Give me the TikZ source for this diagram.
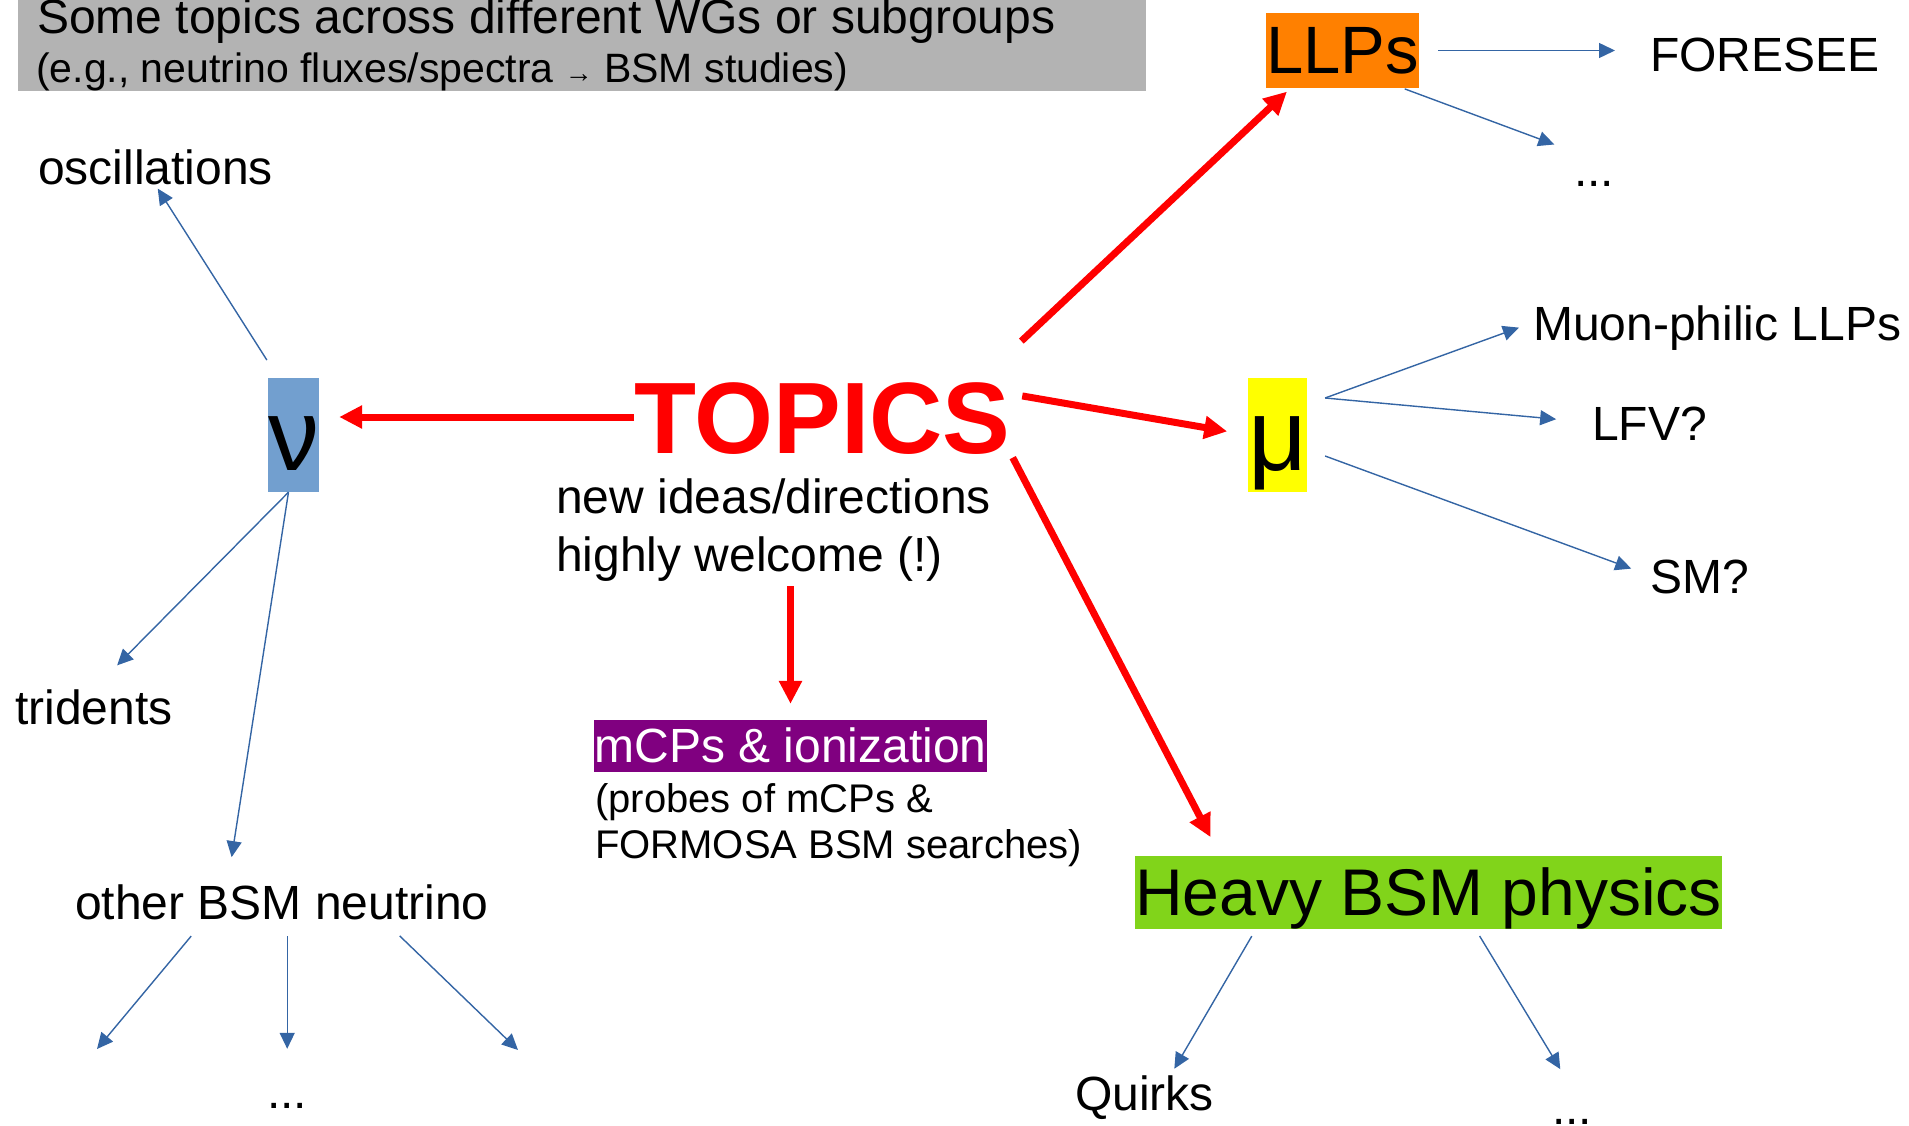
\documentclass[tikz,border=0pt]{standalone}
\usepackage{fontspec}
\setmainfont{Liberation Sans}
\usetikzlibrary{arrows.meta}
\definecolor{headgray}{HTML}{B3B3B3}
\definecolor{nublue}{HTML}{729FCF}
\definecolor{muyellow}{HTML}{FFFF00}
\definecolor{llporange}{HTML}{FF8000}
\definecolor{mcppurple}{HTML}{800080}
\definecolor{bsmgreen}{HTML}{81D41A}
\definecolor{arrowblue}{HTML}{3465A4}
\definecolor{topicred}{HTML}{FF0000}

\begin{document}
\begin{tikzpicture}[x=1pt, y=-1pt,
  lbl/.style={inner sep=0pt, anchor=base west, text height=35pt, text depth=0pt,
    font=\fontsize{48}{58}\selectfont},
  hlbox/.style={inner sep=0pt},
  redarrow/.style={topicred, line width=7pt, -{Triangle[length=23pt,width=22pt]}},
  bluearrow/.style={arrowblue, line width=1.4pt, -{Triangle[length=16pt,width=15pt]}}]
  \useasboundingbox (0,0) rectangle (1909,1126);

  % header
  \fill[headgray] (18,0) rectangle (1146,91);
  \node[lbl] (head1) at (37,34) {Some topics across different WGs or subgroups};
  \node[lbl, font=\fontsize{41}{47}\selectfont] (head2) at (36,83)
    {(e.g., neutrino fluxes/spectra {\fontsize{28}{28}\selectfont →} BSM studies)};

  % centre
  \node[inner sep=0pt, anchor=base west, text height=72pt, text depth=0pt, topicred,
    font=\fontsize{101.5}{110}\selectfont\bfseries] (topics) at (634,453) {TOPICS};
  \node[inner sep=0pt, anchor=north west, align=left,
    font=\fontsize{48}{58}\selectfont] (ideas) at (556,479)
    {new ideas/directions\\highly welcome (!)};
  \node[hlbox, fill=mcppurple, text=white, text height=42.5pt, text depth=9.5pt,
    font=\fontsize{48}{58}\selectfont] (mcp) at (790.5,746) {mCPs \& ionization};
  \node[inner sep=0pt, anchor=north west, align=left,
    font=\fontsize{40}{46}\selectfont] (probes) at (595,783)
    {(probes of mCPs \&\\FORMOSA BSM searches)};

  % neutrinos
  \node[hlbox, fill=nublue, text height=92pt, text depth=22pt, minimum width=51pt,
    font=\fontsize{102}{110}\selectfont] (nu) at (293.5,435) {ν};
  \node[lbl] (osc) at (38,185) {oscillations};
  \node[lbl] (trid) at (15,724) {tridents};
  \node[lbl] (othernu) at (75,919) {other BSM neutrino};
  \node[lbl] (dotsnu) at (267,1108) {...};
  \coordinate (bsmL) at (97,1049);
  \coordinate (bsmR) at (518,1050);

  % LLPs
  \node[hlbox, fill=llporange, text height=61pt, text depth=14pt,
    font=\fontsize{67}{75}\selectfont] (llp) at (1342.5,50.5) {LLPs};
  \node[lbl] (fore) at (1650,72) {FORESEE};
  \node[lbl] (dotsllp) at (1574,187) {...};

  % muons
  \node[hlbox, fill=muyellow, text height=92pt, text depth=22pt, minimum width=58pt,
    font=\fontsize{102}{110}\selectfont] (mu) at (1277.5,435) {μ};
  \node[lbl] (muon) at (1533,340) {Muon-philic LLPs};
  \node[lbl] (lfv) at (1592,440) {LFV?};
  \node[lbl] (sm) at (1650,593) {SM?};
  \coordinate (muhub) at ([xshift=18pt, yshift=37pt]mu.east);
  \coordinate (mulow) at ([xshift=18pt, yshift=-21pt]mu.east);

  % heavy BSM
  \node[hlbox, fill=bsmgreen, text height=59.5pt, text depth=13.5pt,
    font=\fontsize{66}{74}\selectfont] (heavy) at (1428.5,892.5) {Heavy BSM physics};
  \node[lbl] (quirks) at (1075,1110) {Quirks};
  \node[lbl] (dotsbsm) at (1552,1124) {...};

  % red arrows
  \draw[redarrow, shorten >=20pt] (topics.west) -- (topics.west -| nu.east);
  \draw[redarrow, shorten <=58pt, shorten >=5pt] (topics.13) -- (llp.216);
  \draw[redarrow, shorten <=12pt, shorten >=21pt] (topics.7) -- (mu.west);
  \draw[redarrow, shorten <=5pt, shorten >=21pt] (topics.south east) -- (heavy.170);
  \draw[redarrow, shorten <=4pt, shorten >=16pt] (ideas.south -| mcp.north) -- (mcp.north);

  % blue arrows
  \draw[bluearrow, shorten <=21pt, shorten >=4pt] (nu.105) -- (osc.south);
  \draw[bluearrow, shorten >=33pt] (nu.265) -- (trid.north);
  \draw[bluearrow, shorten >=27pt] (nu.265) -- (othernu.162);
  \draw[bluearrow, shorten <=22pt] (othernu.193) -- (bsmL);
  \draw[bluearrow, shorten <=17pt, shorten >=24pt] (othernu.south -| dotsnu.north) -- (dotsnu.north);
  \draw[bluearrow, shorten <=24pt] (othernu.350) -- (bsmR);
  \draw[bluearrow, shorten <=19pt, shorten >=35pt] (llp.east) -- (llp.east -| fore.west);
  \draw[bluearrow, shorten <=2pt, shorten >=21pt] (llp.328) -- (dotsllp.north west);
  \draw[bluearrow, shorten >=15pt] (muhub) -- (muon.west);
  \draw[bluearrow, shorten >=36pt] (muhub) -- (lfv.west);
  \draw[bluearrow, shorten >=20pt] (mulow) -- (sm.west);
  \draw[bluearrow, shorten <=8pt, shorten >=7pt] (heavy.192) -- (quirks.34);
  \draw[bluearrow, shorten <=8pt, shorten >=23pt] (heavy.322) -- (dotsbsm.north);
\end{tikzpicture}
\end{document}
